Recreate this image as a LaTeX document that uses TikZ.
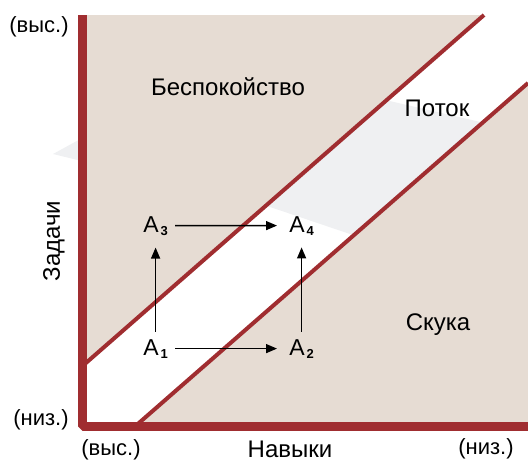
\documentclass[tikz,border=0pt]{standalone}
\usepackage{fontspec}
\setmainfont{Liberation Sans}
\usetikzlibrary{arrows.meta}

\definecolor{barred}{HTML}{A02D30}
\definecolor{zonefill}{HTML}{E6DCD3}
\definecolor{haze}{HTML}{EFF0F2}

\newcommand{\stateA}[1]{A\kern0.9pt\raisebox{-1.5pt}{\fontsize{6.5}{7}\selectfont\bfseries #1}}

\begin{document}
\begin{tikzpicture}[
    x=0.5pt, y=-0.5pt,
    zone/.style={font=\fontsize{12}{14}\selectfont, anchor=base},
    tick/.style={font=\fontsize{11}{13}\selectfont, anchor=base},
    state/.style={font=\fontsize{11.5}{13}\selectfont, anchor=base west, inner sep=0pt},
    move/.style={-{Triangle[length=5.5pt, width=4.5pt]}, line width=0.7pt, shorten <=3.5pt, shorten >=6pt},
    border/.style={barred, line width=2pt}
]
\useasboundingbox (0,0) rectangle (528,461);

% background zones
\fill[haze] (53,154) -- (221,62) -- (528,133) -- (528,294) -- (347,233) -- (270,207) -- cycle;
\fill[zonefill] (87,15) -- (484,15) -- (87,362) -- cycle;
\fill[zonefill] (140,422) -- (528,83) -- (528,422) -- cycle;

% channel borders
\draw[border] (82,366.4) -- (484,15);
\draw[border] (135,426.4) -- (528,83);

% axes
\draw[barred, line width=4.5pt, line join=bevel] (82,15) -- (82,426) -- (528,426);

% zone labels
\node[zone] (worry)  at (228,95)  {Беспокойство};
\node[zone] (flow)   at (437,116) {Поток};
\node[zone] (bore)   at (438,330) {Скука};
\node[zone, rotate=90, anchor=center] (tasks) at (54,241) {Задачи};
\node[zone] (skills) at (290,457) {Навыки};
\node[tick] (thigh)  at (39,32)   {(выс.)};
\node[tick] (tlow)   at (41,425)  {(низ.)};
\node[tick] (shigh)  at (111,455) {(выс.)};
\node[tick] (slow)   at (486,454) {(низ.)};

% states
\node[state] (a1) at (143,355) {\stateA{1}};
\node[state] (a2) at (289,355) {\stateA{2}};
\node[state] (a3) at (143,232) {\stateA{3}};
\node[state] (a4) at (289,232) {\stateA{4}};

\draw[move] (a1) -- (a2);
\draw[move] (a3) -- (a4);
\draw[move] (a1) -- (a3);
\draw[move] (a2) -- (a4);

\end{tikzpicture}
\end{document}
